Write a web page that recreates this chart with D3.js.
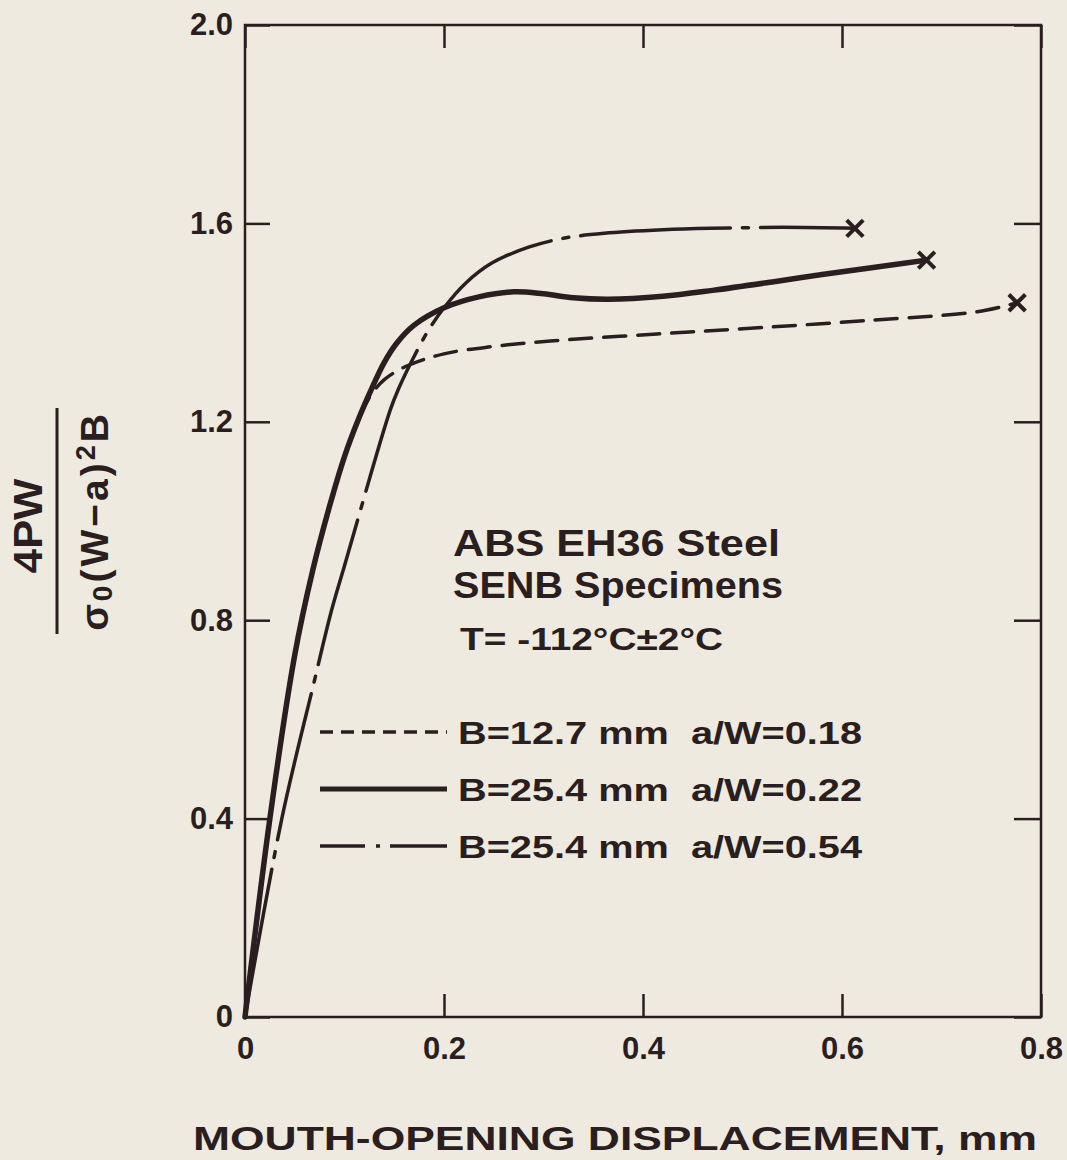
<!DOCTYPE html>
<html>
<head>
<meta charset="utf-8">
<script src="https://cdn.jsdelivr.net/npm/d3@7"></script>
<style>
  body { margin: 0; background: #efeadf; }
  text { font-family: "Liberation Sans", Arial, sans-serif; font-weight: bold; fill: #2a1e20; }
</style>
</head>
<body>
<script>
// axis ticks
var xTicks = [0, 0.2, 0.4, 0.6, 0.8];
var yTicks = [0, 0.4, 0.8, 1.2, 1.6, 2.0];

// legend labels
var seriesLabels = ["B=12.7 mm  a/W=0.18", "B=25.4 mm  a/W=0.22", "B=25.4 mm  a/W=0.54"];

// B=12.7 mm, a/W=0.18 (dashed)
var dashedX = [0, 0.025, 0.05, 0.068, 0.085, 0.1, 0.115, 0.127, 0.14, 0.162, 0.2, 0.25, 0.307, 0.414, 0.52, 0.63, 0.736, 0.776];
var dashedY = [0, 0.40, 0.73, 0.90, 1.03, 1.13, 1.21, 1.255, 1.285, 1.312, 1.337, 1.352, 1.363, 1.377, 1.39, 1.405, 1.422, 1.44];

// B=25.4 mm, a/W=0.22 (solid)
var solidX = [0, 0.025, 0.05, 0.068, 0.085, 0.1, 0.115, 0.128, 0.14, 0.153, 0.17, 0.2, 0.235, 0.27, 0.3, 0.33, 0.365, 0.42, 0.47, 0.53, 0.58, 0.635, 0.685];
var solidY = [0, 0.40, 0.73, 0.90, 1.03, 1.13, 1.21, 1.27, 1.32, 1.36, 1.395, 1.43, 1.452, 1.462, 1.458, 1.45, 1.447, 1.453, 1.465, 1.482, 1.497, 1.512, 1.526];

// B=25.4 mm, a/W=0.54 (dash-dot)
var dashDotX = [0, 0.037, 0.07, 0.087, 0.1, 0.146, 0.154, 0.167, 0.183, 0.2, 0.222, 0.248, 0.285, 0.32, 0.361, 0.42, 0.468, 0.54, 0.613];
var dashDotY = [0, 0.40, 0.68, 0.82, 0.91, 1.224, 1.265, 1.32, 1.38, 1.43, 1.48, 1.52, 1.552, 1.57, 1.58, 1.587, 1.59, 1.592, 1.59];

var width = 1067;
var height = 1160;
var ink = "#2a1e20";

var svg = d3.select("body")
  .append("svg")
  .attr("width", width)
  .attr("height", height);

var mLeft = 245, mRight = 1041, mTop = 25, mBottom = 1017;

var x = d3.scaleLinear().domain([0, 0.8]).range([mLeft, mRight]);
var y = d3.scaleLinear().domain([0, 2.0]).range([mBottom, mTop]);

var fmt = function(d) { return d === 0 ? "0" : d3.format(".1f")(d); };

// frame
svg.append("rect")
  .attr("x", mLeft).attr("y", mTop)
  .attr("width", mRight - mLeft).attr("height", mBottom - mTop)
  .attr("fill", "none").attr("stroke", ink).attr("stroke-width", 2.5);

function styleAxis(g) {
  g.select(".domain").remove();
  g.selectAll(".tick line").attr("stroke", ink).attr("stroke-width", 2.5);
  g.selectAll(".tick text")
    .attr("fill", ink)
    .style("font-family", "'Liberation Sans', Arial, sans-serif")
    .style("font-weight", "bold")
    .style("font-size", "31px");
}

svg.append("g")
  .attr("transform", "translate(0," + mBottom + ")")
  .call(d3.axisBottom(x).tickValues(xTicks).tickSize(-23).tickPadding(20).tickFormat(fmt))
  .call(styleAxis);

svg.append("g")
  .attr("transform", "translate(0," + mTop + ")")
  .call(d3.axisTop(x).tickValues(xTicks).tickSize(-23).tickFormat(""))
  .call(styleAxis);

svg.append("g")
  .attr("transform", "translate(" + mLeft + ",0)")
  .call(d3.axisLeft(y).tickValues(yTicks).tickSize(-25).tickPadding(12).tickFormat(fmt))
  .call(styleAxis);

svg.append("g")
  .attr("transform", "translate(" + mRight + ",0)")
  .call(d3.axisRight(y).tickValues(yTicks).tickSize(-27).tickFormat(""))
  .call(styleAxis);

// curves
var series = [
  { xs: dashedX, ys: dashedY, dash: "22,12", w: 3.5 },
  { xs: solidX, ys: solidY, dash: null, w: 5.5 },
  { xs: dashDotX, ys: dashDotY, dash: "150,12,6,12", w: 3.5 }
];

var line = d3.line()
  .x(function(d) { return x(d[0]); })
  .y(function(d) { return y(d[1]); })
  .curve(d3.curveCatmullRom.alpha(0.5));

series.forEach(function(s, i) {
  var pts = s.xs.map(function(v, j) { return [v, s.ys[j]]; });
  svg.append("path")
    .datum(pts)
    .attr("d", line)
    .attr("fill", "none")
    .attr("stroke", ink)
    .attr("stroke-width", s.w)
    .attr("stroke-linecap", "round")
    .attr("stroke-dasharray", s.dash);

  var last = pts[pts.length - 1];
  svg.append("path")
    .attr("d", d3.symbol(d3.symbolTimes, 180)())
    .attr("transform", "translate(" + x(last[0]) + "," + y(last[1]) + ")")
    .attr("fill", "none")
    .attr("stroke", ink)
    .attr("stroke-width", 4);
});

// notes
svg.append("text").attr("x", 453).attr("y", 556).style("font-size", "37px")
  .attr("textLength", 327).attr("lengthAdjust", "spacingAndGlyphs").text("ABS EH36 Steel");
svg.append("text").attr("x", 453).attr("y", 598).style("font-size", "37px")
  .attr("textLength", 330).attr("lengthAdjust", "spacingAndGlyphs").text("SENB Specimens");
svg.append("text").attr("x", 460).attr("y", 650).style("font-size", "32px")
  .attr("textLength", 263).attr("lengthAdjust", "spacingAndGlyphs").text("T= -112°C±2°C");

// legend
var legendY = [732, 789, 846];
var legendDash = ["13,8", null, "45,11,4,10,60"];
var legendW = [3.5, 5, 3.5];
seriesLabels.forEach(function(lbl, i) {
  svg.append("line")
    .attr("x1", 320).attr("x2", 447)
    .attr("y1", legendY[i]).attr("y2", legendY[i])
    .attr("stroke", ink)
    .attr("stroke-width", legendW[i])
    .attr("stroke-dasharray", legendDash[i]);
  svg.append("text")
    .attr("x", 458).attr("y", legendY[i] + 12)
    .style("font-size", "32px")
    .style("white-space", "pre")
    .attr("textLength", 404).attr("lengthAdjust", "spacingAndGlyphs")
    .text(lbl);
});

// axis titles
svg.append("text")
  .attr("x", 615).attr("y", 1150)
  .attr("text-anchor", "middle")
  .style("font-size", "34px")
  .attr("textLength", 844).attr("lengthAdjust", "spacingAndGlyphs")
  .text("MOUTH-OPENING DISPLACEMENT, mm");

svg.append("text")
  .attr("transform", "translate(42,526) rotate(-90)")
  .attr("text-anchor", "middle")
  .style("font-size", "40px")
  .attr("textLength", 95).attr("lengthAdjust", "spacingAndGlyphs")
  .text("4PW");

svg.append("line")
  .attr("x1", 57).attr("x2", 57).attr("y1", 408).attr("y2", 634)
  .attr("stroke", ink).attr("stroke-width", 3);

var den = svg.append("text")
  .attr("transform", "translate(108,521) rotate(-90)")
  .attr("text-anchor", "middle")
  .style("font-size", "39px")
  .style("letter-spacing", "3px");
den.append("tspan").text("σ");
den.append("tspan").attr("dy", 4).style("font-size", "28px").text("0");
den.append("tspan").attr("dy", -4).text("(W−a)");
den.append("tspan").attr("dy", -13).style("font-size", "27px").text("2");
den.append("tspan").attr("dy", 13).text("B");
</script>
</body>
</html>
